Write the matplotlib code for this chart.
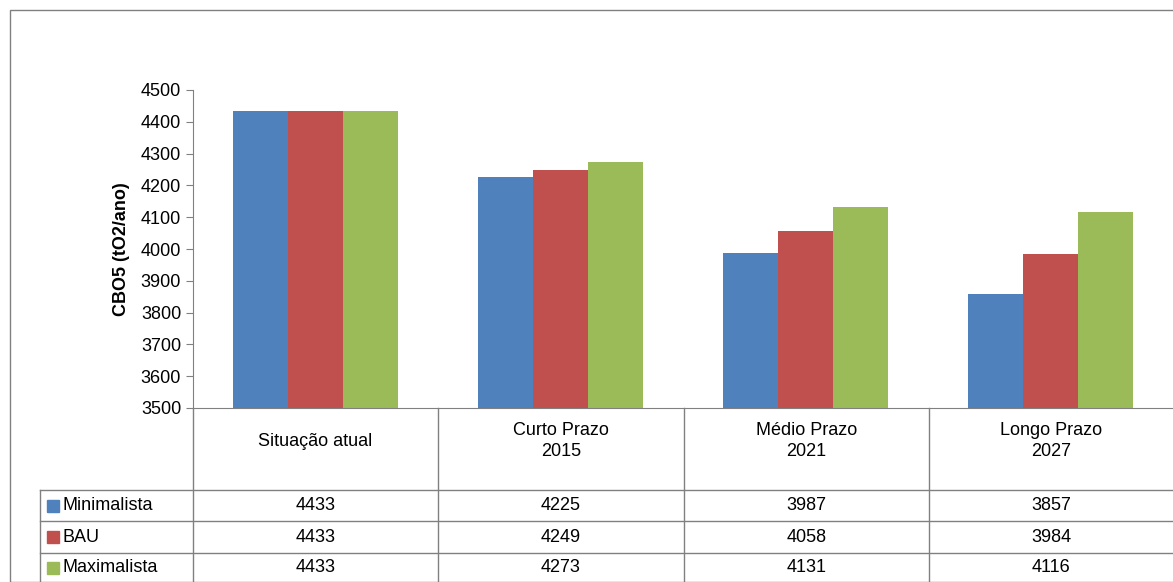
import matplotlib.pyplot as plt
from matplotlib.lines import Line2D
from matplotlib.patches import Rectangle
import numpy as np

plt.rcParams['font.family'] = ['Liberation Sans', 'DejaVu Sans']

categories = ['Situação atual', 'Curto Prazo\n2015', 'Médio Prazo\n2021', 'Longo Prazo\n2027']
series = ['Minimalista', 'BAU', 'Maximalista']
values = {
    'Minimalista': [4433, 4225, 3987, 3857],
    'BAU': [4433, 4249, 4058, 3984],
    'Maximalista': [4433, 4273, 4131, 4116],
}
colors = ['#4F81BD', '#C0504D', '#9BBB59']

W, H = 1173, 582
fig = plt.figure(figsize=(W / 100, H / 100), dpi=100)


def fx(px):
    return px / W


def fy(py):
    return 1 - py / H


def hline(y, x0, x1, c='#808080', lw=1):
    fig.add_artist(Line2D([fx(x0), fx(x1)], [fy(y), fy(y)], color=c, lw=lw))


def vline(x, y0, y1, c='#808080', lw=1):
    fig.add_artist(Line2D([fx(x), fx(x)], [fy(y0), fy(y1)], color=c, lw=lw))


# outer border
fig.add_artist(Rectangle((fx(10), 0), 1, fy(10), fill=False, ec='#808080', lw=1))

ax = fig.add_axes([fx(193), fy(408), 1 - fx(193), fy(90) - fy(408)])
x = np.arange(len(categories))
bw = 0.225
for i, s in enumerate(series):
    ax.bar(x + (i - 1) * bw, values[s], bw, color=colors[i], bottom=0)
ax.set_xlim(-0.5, 3.5)
ax.set_ylim(3500, 4500)
ax.set_yticks(range(3500, 4501, 100))
ax.tick_params(axis='y', labelsize=13, length=5, color='#808080')
ax.set_xticks([])
for sp in ['top', 'right']:
    ax.spines[sp].set_visible(False)
ax.spines['left'].set_color('#808080')
ax.spines['bottom'].set_color('#808080')
ax.set_ylabel('CBO5 (tO2/ano)', fontsize=13, fontweight='bold', labelpad=8)

# data table
cols = [193, 438, 684, 929, 1173]
rows = [408, 490, 521, 553, 582]
for y in rows[1:4]:
    hline(y, 40, 1173)
vline(40, 490, 582)
for c in cols[:4]:
    vline(c, 408, 582)
for j, cat in enumerate(categories):
    fig.text(fx((cols[j] + cols[j + 1]) / 2), fy(441), cat, ha='center', va='center',
             fontsize=13, linespacing=1.3)
for i, s in enumerate(series):
    yc = (rows[i + 1] + rows[i + 2]) / 2
    fig.add_artist(Rectangle((fx(47), fy(yc + 6)), fx(12), fy(0) - fy(12), color=colors[i]))
    fig.text(fx(63), fy(yc), s, ha='left', va='center', fontsize=13)
    for j in range(4):
        fig.text(fx((cols[j] + cols[j + 1]) / 2), fy(yc), str(values[s][j]),
                 ha='center', va='center', fontsize=13)

fig.savefig('out.png', dpi=100)
